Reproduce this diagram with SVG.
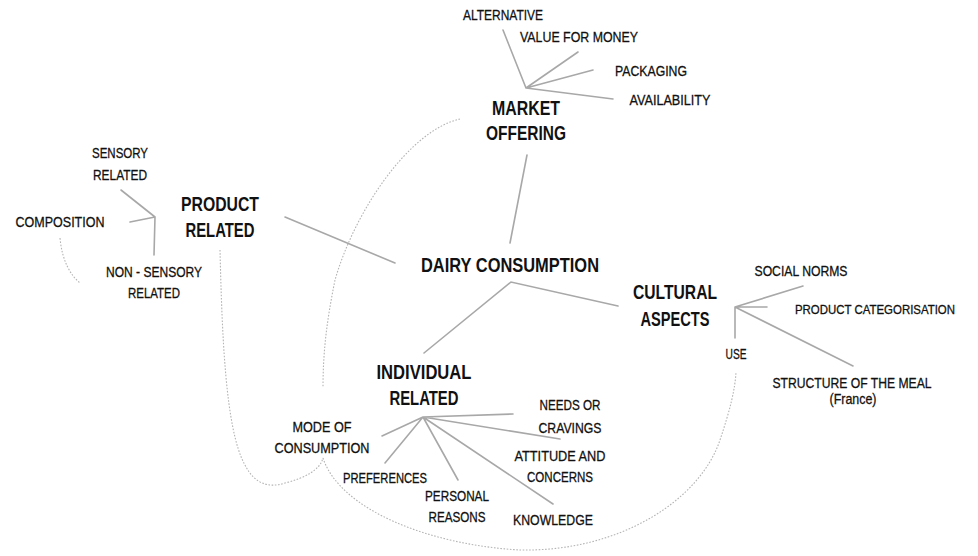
<svg xmlns="http://www.w3.org/2000/svg" width="978" height="556" viewBox="0 0 978 556">
<style>
text{font-family:"Liberation Sans",Arial,sans-serif;fill:#111;text-anchor:middle}
.s{font-size:15px;stroke:#111;stroke-width:0.3}
.b{font-size:20px;font-weight:bold}
.ln{stroke:#a8a8a8;stroke-width:1.6;fill:none;stroke-linecap:round}
.dt{stroke:#b4b4b4;stroke-width:1.1;fill:none;stroke-dasharray:1.6 1.6}
</style>
<rect width="978" height="556" fill="#fff"/>
<g id="connectors">
<path class="ln" d="M526 88L503 30M526 88L578 52M526 88L593 70M526 88L613 99"/>
<path class="ln" d="M527 155L510 243"/>
<path class="ln" d="M285 217L395 263"/>
<path class="ln" d="M424 353L511 282L618 306"/>
<path class="ln" d="M155 217L121 190M155 217L130 222M155 217L154 255"/>
<path class="ln" d="M735 307L803 286M735 307L767 307M735 307L853 366M735 307L735 338"/>
<path class="ln" d="M423 417L513 414M423 417L560 439M423 417L382 436M423 417L385 463M423 417L458 480M423 417L553 504"/>
<path class="dt" d="M460 119C410 130 355 210 335 280C327 320 323 350 323 388"/>
<path class="dt" d="M220 250C222 330 225 430 245 465C255 485 270 488 285 483C305 478 320 470 323 458"/>
<path class="dt" d="M323 458C340 510 430 545 520 550C620 552 700 500 720 440C730 410 735 390 736 372"/>
<path class="dt" d="M60 238C62 260 70 275 80 283"/>
</g>
<g id="market"><text class="b" x="526" y="115" textLength="68" lengthAdjust="spacingAndGlyphs">MARKET</text><text class="b" x="526" y="140" textLength="80" lengthAdjust="spacingAndGlyphs">OFFERING</text></g>
<g id="alternative"><text class="s" x="503" y="20" textLength="80" lengthAdjust="spacingAndGlyphs">ALTERNATIVE</text></g>
<g id="value"><text class="s" x="579" y="42" textLength="118" lengthAdjust="spacingAndGlyphs">VALUE FOR MONEY</text></g>
<g id="packaging"><text class="s" x="651" y="76" textLength="72" lengthAdjust="spacingAndGlyphs">PACKAGING</text></g>
<g id="availability"><text class="s" x="670" y="105" textLength="81" lengthAdjust="spacingAndGlyphs">AVAILABILITY</text></g>
<g id="product"><text class="b" x="220" y="211" textLength="78" lengthAdjust="spacingAndGlyphs">PRODUCT</text><text class="b" x="220" y="237" textLength="69" lengthAdjust="spacingAndGlyphs">RELATED</text></g>
<g id="sensory"><text class="s" x="120" y="158" textLength="56" lengthAdjust="spacingAndGlyphs">SENSORY</text><text class="s" x="120" y="180" textLength="54" lengthAdjust="spacingAndGlyphs">RELATED</text></g>
<g id="composition"><text class="s" x="60" y="227" textLength="89" lengthAdjust="spacingAndGlyphs">COMPOSITION</text></g>
<g id="nonsensory"><text class="s" x="154" y="277" textLength="96" lengthAdjust="spacingAndGlyphs">NON - SENSORY</text><text class="s" x="154" y="298" textLength="52" lengthAdjust="spacingAndGlyphs">RELATED</text></g>
<g id="dairy"><text class="b" x="510" y="272" textLength="178" lengthAdjust="spacingAndGlyphs">DAIRY CONSUMPTION</text></g>
<g id="cultural"><text class="b" x="675" y="299" textLength="84" lengthAdjust="spacingAndGlyphs">CULTURAL</text><text class="b" x="675" y="326" textLength="69" lengthAdjust="spacingAndGlyphs">ASPECTS</text></g>
<g id="social"><text class="s" x="801" y="276" textLength="93" lengthAdjust="spacingAndGlyphs">SOCIAL NORMS</text></g>
<g id="categorisation"><text class="s" x="875" y="314" style="font-size:13px" textLength="160" lengthAdjust="spacingAndGlyphs">PRODUCT CATEGORISATION</text></g>
<g id="use"><text class="s" x="736" y="359" textLength="21" lengthAdjust="spacingAndGlyphs">USE</text></g>
<g id="structure"><text class="s" x="852" y="388" textLength="159" lengthAdjust="spacingAndGlyphs">STRUCTURE OF THE MEAL</text><text class="s" x="853" y="404" textLength="47" lengthAdjust="spacingAndGlyphs">(France)</text></g>
<g id="individual"><text class="b" x="424" y="379" textLength="95" lengthAdjust="spacingAndGlyphs">INDIVIDUAL</text><text class="b" x="424" y="405" textLength="69" lengthAdjust="spacingAndGlyphs">RELATED</text></g>
<g id="needs"><text class="s" x="570" y="410" textLength="61" lengthAdjust="spacingAndGlyphs">NEEDS OR</text><text class="s" x="570" y="433" textLength="63" lengthAdjust="spacingAndGlyphs">CRAVINGS</text></g>
<g id="mode"><text class="s" x="322" y="432" textLength="59" lengthAdjust="spacingAndGlyphs">MODE OF</text><text class="s" x="322" y="453" textLength="95" lengthAdjust="spacingAndGlyphs">CONSUMPTION</text></g>
<g id="attitude"><text class="s" x="560" y="461" textLength="91" lengthAdjust="spacingAndGlyphs">ATTITUDE AND</text><text class="s" x="560" y="482" textLength="66" lengthAdjust="spacingAndGlyphs">CONCERNS</text></g>
<g id="preferences"><text class="s" x="385" y="483" textLength="84" lengthAdjust="spacingAndGlyphs">PREFERENCES</text></g>
<g id="personal"><text class="s" x="457" y="501" textLength="64" lengthAdjust="spacingAndGlyphs">PERSONAL</text><text class="s" x="457" y="522" textLength="57" lengthAdjust="spacingAndGlyphs">REASONS</text></g>
<g id="knowledge"><text class="s" x="553" y="525" textLength="80" lengthAdjust="spacingAndGlyphs">KNOWLEDGE</text></g>
</svg>
